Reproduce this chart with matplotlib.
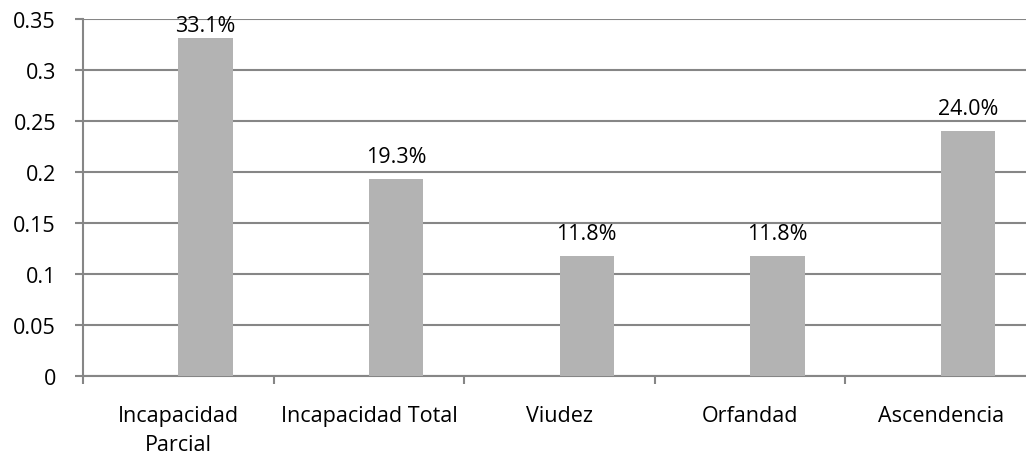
import matplotlib
matplotlib.use("Agg")
import matplotlib.pyplot as plt
from matplotlib.ticker import FixedLocator
from matplotlib.transforms import blended_transform_factory

categories = ["Incapacidad\nParcial", "Incapacidad Total", "Viudez", "Orfandad", "Ascendencia"]
values = [0.331, 0.193, 0.118, 0.118, 0.240]
yticks = [0, 0.05, 0.1, 0.15, 0.2, 0.25, 0.3, 0.35]
ytick_labels = ["0", "0.05", "0.1", "0.15", "0.2", "0.25", "0.3", "0.35"]

plt.rcParams["font.family"] = ["Open Sans", "DejaVu Sans"]
FS = 15.5
GRID = "#868686"

W, H = 1026, 456
fig = plt.figure(figsize=(W / 100, H / 100), dpi=100)
left, right, top, bottom = 83, 1036, 20, 377
ax = fig.add_axes([left / W, 1 - bottom / H, (right - left) / W, (bottom - top) / H])
ymax = 0.35
px = ymax / (bottom - top)  # data units per pixel on y

bar_w = 0.2857
offset = bar_w / 2
x = list(range(len(categories)))
xb = [i + offset for i in x]
ax.bar(xb, values, width=bar_w, color="#b3b3b3", zorder=3)

# value labels sit ~17px above each bar, kept inside the plot area
for xi, v in zip(xb, values):
    yl = min(v + 17 * px, ymax - 12 * px)
    ax.text(xi, yl, f"{v * 100:.1f}%", ha="center", va="baseline",
            fontsize=FS, color="#000000", zorder=4)

ax.set_xlim(-0.5, len(categories) - 0.5)
ax.set_ylim(0, ymax)
ax.yaxis.set_major_locator(FixedLocator(yticks))
ax.set_yticklabels(ytick_labels)
ax.grid(axis="y", color=GRID, linewidth=1.5, zorder=0)

# category labels, one baseline per line
tr = blended_transform_factory(ax.transData, ax.transAxes)
first_base = -(421.7 - bottom) / (bottom - top)
line_step = 29.5 / (bottom - top)
for xi, lab in zip(x, categories):
    for k, line in enumerate(lab.split("\n")):
        ax.text(xi, first_base - k * line_step, line, transform=tr, ha="center",
                va="baseline", fontsize=FS, color="#000000", clip_on=False)

ax.set_xticks([])
ax.set_xticks([i - 0.5 for i in range(len(categories) + 1)], minor=True)
ax.tick_params(axis="x", which="minor", length=5.8, width=1.5, color=GRID, direction="out")
ax.tick_params(axis="y", length=5.8, width=1.5, color=GRID, labelsize=FS, pad=13.7)

for s in ["top", "right"]:
    ax.spines[s].set_visible(False)
for s in ["left", "bottom"]:
    ax.spines[s].set_color(GRID)
    ax.spines[s].set_linewidth(1.5)

fig.savefig("out.png", dpi=100)
